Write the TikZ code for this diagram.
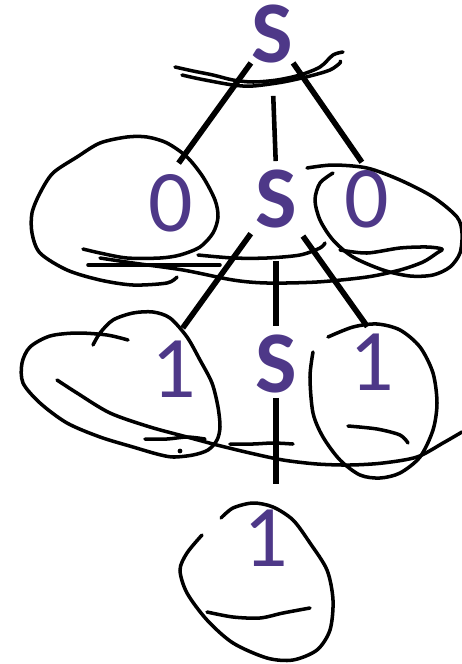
\documentclass[tikz,border=0pt]{standalone}
\usepackage{fontspec}
\setmainfont{Carlito}
\usetikzlibrary{positioning}
\definecolor{ink}{HTML}{4E3888}
\begin{document}
\begin{tikzpicture}[x=0.02cm,y=-0.02cm,
  sym/.style={inner sep=0pt,anchor=base,text=ink,font=\fontsize{50}{50}\selectfont},
  bsym/.style={sym,font=\fontsize{50}{50}\selectfont\bfseries},
  edge/.style={line width=3.2pt},
  scribble/.style={line width=2pt,line cap=round,line join=round}]
\useasboundingbox (0,0) rectangle (462,664);
\node (top) [bsym] at (272,62) {S};
\node (zeroL) [sym] at (171,231) {0};
\node (mid) [bsym] at (276,227) {S};
\node (zeroR) [sym] at (367,227) {0};
\node (oneL) [sym] at (174,397) {1};
\node (low) [bsym] at (276,392) {S};
\node (oneR) [sym] at (372,390) {1};
\node (oneB) [sym] at (266,566) {1};
\draw[edge,shorten >=0.26cm] (top.south west) -- (zeroL.north);
\draw[edge,line width=2.6pt,shorten <=0.66cm,shorten >=0.16cm] (top.south) -- (mid.north);
\draw[edge,shorten >=0.18cm] (top.south east) -- (zeroR.north);
\draw[edge,shorten <=0.14cm,shorten >=0.3cm] (mid.south west) -- (oneL.north);
\draw[edge,shorten <=0.66cm,shorten >=0.16cm] (mid.south) -- (low.north);
\draw[edge,shorten <=0.2cm,shorten >=0.16cm] (mid.south east) -- (oneR.north);
\draw[edge,shorten <=0.1cm,shorten >=0.5cm] (low.south) -- (low.south |- oneB.north);
\draw[scribble] plot[smooth] coordinates {(175,67) (193,71) (213,75) (233,80) (253,82) (277,80) (300,75) (320,67) (333,55) (343,52)};
\draw[scribble] plot[smooth] coordinates {(182,75) (200,79) (233,85) (253,86) (283,82) (310,76) (330,70) (340,63) (340,61)};
\draw[scribble] plot[smooth] coordinates {(83,249) (100,253) (127,258) (160,258) (180,255) (200,247) (213,233) (218,217) (215,200) (203,177) (187,157) (167,143) (147,137) (127,137) (100,143) (77,157) (53,173) (40,193) (32,213) (32,233) (40,253) (67,270) (100,280) (133,285) (167,283) (177,277)};
\draw[scribble] plot[smooth] coordinates {(100,258) (133,263) (183,270) (233,280) (267,283) (317,282) (367,277) (400,270) (423,262) (437,253) (442,249) (427,247) (400,248) (367,253) (340,250)};
\draw[scribble] (88,265) -- (220,265);
\draw[scribble] plot[smooth] coordinates {(198,255) (233,258) (267,258) (300,255) (320,248) (325,243)};
\draw[scribble] plot[smooth] coordinates {(307,168) (333,165) (367,168) (400,180) (433,197) (457,217) (462,233) (460,253) (450,267) (433,275) (410,276) (383,270) (353,257) (333,240) (320,220) (315,200) (320,183) (333,173)};
\draw[scribble] plot[smooth] coordinates {(93,345) (100,333) (113,320) (133,313) (153,312) (170,318) (187,337) (200,360) (212,383) (218,407) (220,427) (217,440) (208,450) (193,455) (173,457) (157,454) (133,447) (100,437) (67,423) (40,403) (23,383) (22,363) (30,347) (50,336) (77,333) (107,335) (128,340)};
\draw[scribble] plot[smooth] coordinates {(57,380) (77,393) (110,413) (150,427) (187,437) (217,445) (250,453) (283,460) (317,464) (350,465) (383,463) (417,457) (443,443) (462,432)};
\draw[scribble] plot[smooth] coordinates {(145,439) (167,439) (187,437) (205,439)};
\fill (180,451) circle (2.4);
\draw[scribble] plot[smooth] coordinates {(230,444) (253,444) (273,443) (293,444)};
\draw[scribble] plot[smooth] coordinates {(313,352) (310,377) (313,413) (323,437) (340,460) (360,475) (380,478) (400,473) (420,457) (433,430) (437,403) (433,373) (420,347) (400,330) (377,324) (353,327) (328,337)};
\draw[scribble] plot[smooth] coordinates {(348,426) (377,429) (400,435) (408,443)};
\draw[scribble] plot[smooth] coordinates {(221,518) (233,508) (253,503) (273,507) (293,520) (310,543) (327,570) (333,600) (330,630) (317,650) (293,660) (267,658) (233,643) (207,620) (187,593) (180,570) (187,553) (202,535)};
\draw[scribble] plot[smooth] coordinates {(207,612) (233,617) (260,618) (283,613) (310,608)};
\end{tikzpicture}
\end{document}
